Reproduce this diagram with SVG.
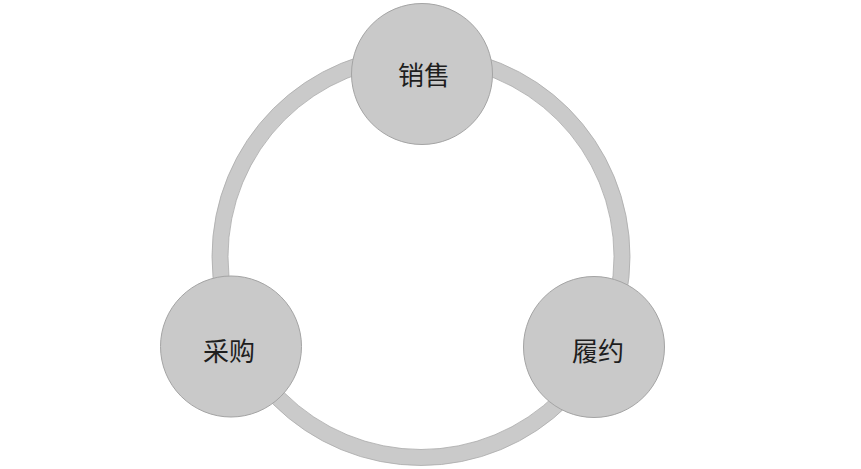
<svg xmlns="http://www.w3.org/2000/svg" width="861" height="469" viewBox="0 0 861 469">
<style>
.ring{fill:#cacaca;stroke:#a9a9a9;stroke-width:0.8;fill-rule:evenodd}
.node{fill:#c9c9c9;stroke:#a4a4a4;stroke-width:1}
.lbl{font-family:"Noto Sans CJK SC","Noto Sans",sans-serif;font-size:26px;fill:#1e1e1e;text-anchor:middle;dominant-baseline:central}
</style>
<rect width="861" height="469" fill="#ffffff"/>
<g id="connectors">
<path class="ring" d="M212,256.5 a209,209 0 1,0 418,0 a209,209 0 1,0 -418,0 Z M228,256.5 a193,193 0 1,0 386,0 a193,193 0 1,0 -386,0 Z"/>
</g>
<g id="node-sales">
<circle class="node" cx="422" cy="74" r="70.5"/>
<text class="lbl" x="424" y="73">销售</text>
</g>
<g id="node-purchase">
<circle class="node" cx="231" cy="346.5" r="70.5"/>
<text class="lbl" x="229" y="349">采购</text>
</g>
<g id="node-fulfill">
<circle class="node" cx="594" cy="347" r="70.5"/>
<text class="lbl" x="598" y="349">履约</text>
</g>
</svg>
